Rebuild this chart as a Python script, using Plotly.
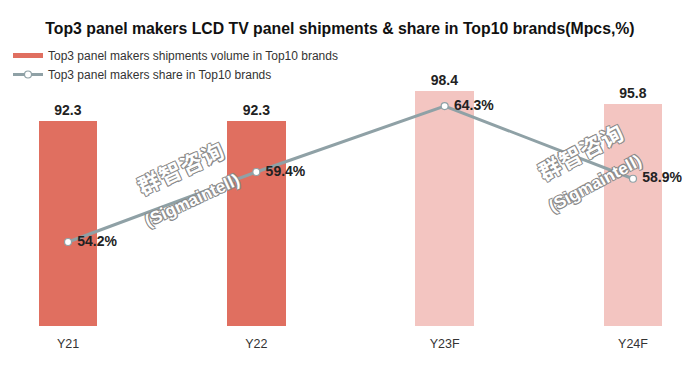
import plotly.graph_objects as go

categories = ["Y21", "Y22", "Y23F", "Y24F"]
shipments = [92.3, 92.3, 98.4, 95.8]
share = [54.2, 59.4, 64.3, 58.9]
bar_colors = ["#E06F60", "#E06F60", "#F3C5C1", "#F3C5C1"]

bar_name = "Top3 panel makers shipments volume in Top10 brands"
line_name = "Top3 panel makers share in Top10 brands"
title_text = "Top3 panel makers LCD TV panel shipments & share in Top10 brands(Mpcs,%)"

LINE_C = "#8FA1A6"
fig = go.Figure()
fig.add_trace(go.Bar(
    x=categories, y=shipments, name=bar_name, showlegend=False,
    marker=dict(color=bar_colors, line=dict(width=0)),
    width=0.31,
    text=[f"{v:.1f}" for v in shipments], textposition="outside",
    textfont=dict(family="Liberation Sans, Arial", size=14, color="#222222", weight="bold"),
    cliponaxis=False,
))
# legend entry for the bars (thick bar-like swatch)
fig.add_trace(go.Scatter(
    x=[None], y=[None], name=bar_name, mode="lines",
    line=dict(color=bar_colors[0], width=5),
))
fig.add_trace(go.Scatter(
    x=categories, y=share, name=line_name, yaxis="y2",
    mode="lines+markers+text",
    line=dict(color=LINE_C, width=3),
    marker=dict(color="white", size=7, line=dict(color=LINE_C, width=1.2)),
    text=[f" {v:.1f}%" for v in share], textposition="middle right",
    textfont=dict(family="Liberation Sans, Arial", size=14, color="#222222", weight="bold"),
    cliponaxis=False,
))

wm_shadow = "-1px -1px 0 #8a8a8a, 1px -1px 0 #8a8a8a, -1px 1px 0 #8a8a8a, 1px 1px 0 #8a8a8a"
for (cx, cy, sx, sy, ang) in [(180, 167, 192, 200, -25), (580, 151, 595, 183, -28)]:
    fig.add_annotation(xref="paper", yref="paper", x=(cx - 20) / 661, y=(326 - cy) / 240,
                       xanchor="center", yanchor="middle",
                       text="群\u200a智\u200a咨\u200a询", showarrow=False, textangle=ang,
                       font=dict(family="Noto Sans CJK SC", size=22, color="white", weight="bold",
                                 shadow=wm_shadow))
    fig.add_annotation(xref="paper", yref="paper", x=(sx - 20) / 661, y=(326 - sy) / 240,
                       xanchor="center", yanchor="middle",
                       text="(Sigmaintell)", showarrow=False, textangle=ang,
                       font=dict(family="Liberation Sans, Arial", size=17, color="white", weight="bold",
                                 shadow=wm_shadow))

# page body adds an 8px offset; margins compensate
fig.update_layout(
    width=700, height=369,
    margin=dict(l=12, r=27, t=78, b=51, autoexpand=False),
    paper_bgcolor="white", plot_bgcolor="white",
    title=dict(text=title_text, x=332 / 700, xanchor="center", y=1 - 20 / 369, yanchor="middle",
               font=dict(family="Liberation Sans, Arial", size=15.8, color="#111111", weight="bold")),
    showlegend=True,
    legend=dict(xref="container", yref="container", x=0, y=1 - 33 / 369,
                xanchor="left", yanchor="top", orientation="v", tracegroupgap=0,
                font=dict(family="Liberation Sans, Arial", size=12, color="#333333"),
                bgcolor="rgba(0,0,0,0)", itemwidth=30),
    xaxis=dict(range=[-0.255, 3.255], showgrid=False, showline=False, zeroline=False,
               ticks="", ticklabelstandoff=8,
               tickfont=dict(family="Liberation Sans, Arial", size=12.5, color="#333333")),
    yaxis=dict(range=[50.6, 99.4], visible=False, showgrid=False),
    yaxis2=dict(range=[47.96, 65.79], overlaying="y", side="right", visible=False, showgrid=False),
    bargap=0,
)

fig.write_html("out.html")
